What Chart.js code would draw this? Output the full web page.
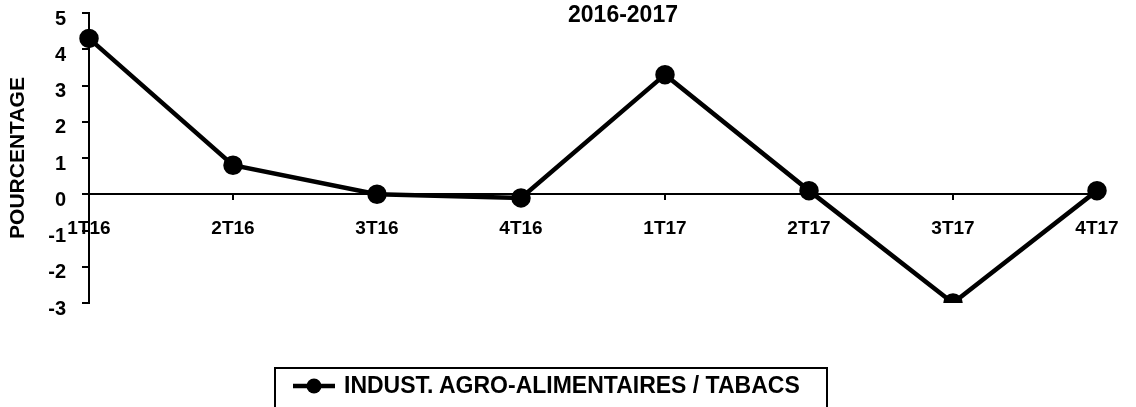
<!DOCTYPE html>
<html>
<head>
<meta charset="utf-8">
<script src="https://cdn.jsdelivr.net/npm/chart.js@4.4.1/dist/chart.umd.min.js"></script>
<style>
  html, body { margin: 0; padding: 0; background: #fff; }
  #wrap { position: relative; width: 1136px; height: 407px; overflow: hidden; }
  #legend {
    position: absolute; left: 274px; top: 367px; width: 554px; height: 60px;
    border: 2px solid #000; box-sizing: border-box;
    font: bold 23px "Liberation Sans", Arial, sans-serif; color: #000;
  }
  #legend .item { position: absolute; left: 17px; top: 3px; display: flex; align-items: center; white-space: nowrap; }
  #legend canvas { margin-right: 9px; }
</style>
</head>
<body>
<div id="wrap">
  <canvas id="chart" width="1136" height="407"></canvas>
  <div id="legend"><div class="item"><canvas id="sym" width="42" height="18"></canvas><span>INDUST. AGRO-ALIMENTAIRES / TABACS</span></div></div>
</div>
<script>
const quarters = ['1T16', '2T16', '3T16', '4T16', '1T17', '2T17', '3T17', '4T17'];
const agroValues = [4.3, 0.8, 0.0, -0.1, 3.3, 0.1, -3.0, 0.1];
const seriesName = 'INDUST. AGRO-ALIMENTAIRES / TABACS';
const chartTitle = '2016-2017';
const yTitle = 'POURCENTAGE';

Chart.defaults.font.family = '"Liberation Sans", Arial, sans-serif';
Chart.defaults.font.weight = 'bold';
Chart.defaults.color = '#000';

// petit symbole de légende : trait + point
const sym = document.getElementById('sym').getContext('2d');
sym.strokeStyle = '#000';
sym.lineWidth = 4.5;
sym.beginPath(); sym.moveTo(0, 9); sym.lineTo(42, 9); sym.stroke();
sym.beginPath(); sym.arc(21, 9, 7.5, 0, Math.PI * 2); sym.fillStyle = '#000'; sym.fill();

const titlePlugin = {
    id: 'topTitle',
    afterDraw(chart) {
        const c = chart.ctx;
        c.save();
        c.font = 'bold 23px "Liberation Sans", Arial, sans-serif';
        c.fillStyle = '#000';
        c.textAlign = 'center';
        c.textBaseline = 'middle';
        c.fillText(chartTitle, 623, 16);
        c.restore();
    }
};

new Chart(document.getElementById('chart'), {
    type: 'line',
    data: {
        labels: quarters,
        datasets: [{
            label: seriesName,
            data: agroValues,
            borderColor: '#000',
            backgroundColor: '#000',
            borderWidth: 4.5,
            pointRadius: 7.5,
            pointHoverRadius: 7.5,
            tension: 0
        }]
    },
    options: {
        responsive: false,
        animation: false,
        layout: { padding: { top: 13, right: 39, bottom: 104, left: 0 } },
        plugins: { legend: { display: false }, tooltip: { enabled: false } },
        scales: {
            x: {
                position: { y: 0 },
                offset: false,
                afterFit(scale) { scale.paddingLeft = 0; scale.paddingRight = 0; },
                grid: { drawOnChartArea: false, drawTicks: true, tickLength: 5, color: '#000', lineWidth: 2 },
                border: { display: true, color: '#000', width: 2 },
                ticks: { font: { size: 19, weight: 'bold' }, padding: 18, maxRotation: 0, autoSkip: false }
            },
            y: {
                min: -3,
                max: 5,
                afterFit(scale) { scale.width = 89; scale.paddingTop = 0; scale.paddingBottom = 0; },
                grid: { drawOnChartArea: false, drawTicks: true, tickLength: 7, color: '#000', lineWidth: 2 },
                border: { display: true, color: '#000', width: 2 },
                ticks: { stepSize: 1, font: { size: 20, weight: 'bold' }, padding: 16, labelOffset: 6 },
                title: { display: true, text: yTitle, font: { size: 21, weight: 'bold' }, padding: { top: 6, bottom: 0 } }
            }
        }
    },
    plugins: [titlePlugin]
});
</script>
</body>
</html>
